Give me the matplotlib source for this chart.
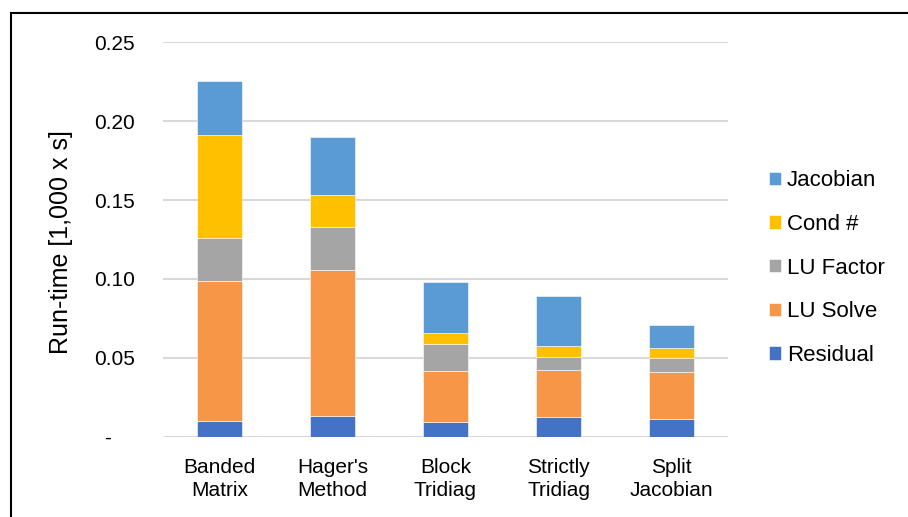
import numpy as np
import matplotlib
matplotlib.use("Agg")
import matplotlib.pyplot as plt
from matplotlib.lines import Line2D

plt.rcParams['font.family'] = ['Liberation Sans', 'DejaVu Sans']

# run-time per solver stage, in units of 1,000 s
methods = ["Banded\nMatrix", "Hager's\nMethod", "Block\nTridiag", "Strictly\nTridiag", "Split\nJacobian"]
residual = [0.0100, 0.0133, 0.0095, 0.0127, 0.0112]
lu_solve = [0.0887, 0.0925, 0.0323, 0.0294, 0.0300]
lu_factor = [0.0270, 0.0269, 0.0168, 0.0086, 0.0089]
cond_num = [0.0657, 0.0207, 0.0071, 0.0066, 0.0063]
jacobian = [0.0340, 0.0363, 0.0321, 0.0321, 0.0144]

stages = ["Residual", "LU Solve", "LU Factor", "Cond #", "Jacobian"]
colors = ["#4472C4", "#F79646", "#A5A5A5", "#FFC000", "#5B9BD5"]
yticks = [0, 0.05, 0.10, 0.15, 0.20, 0.25]
yticklabels = ["-    ", "0.05", "0.10", "0.15", "0.20", "0.25"]

fig = plt.figure(figsize=(9.08, 5.17), dpi=100)
ax = fig.add_axes([163 / 908, 1 - 436.7 / 517, 565 / 908, 394.4 / 517])

x = np.arange(len(methods))
bottom = np.zeros(len(methods))
handles = []
for name, vals, col in zip(stages, [residual, lu_solve, lu_factor, cond_num, jacobian], colors):
    b = ax.bar(x, vals, 0.4, bottom=bottom, color=col, edgecolor="white",
               linewidth=0.4, label=name, zorder=3)
    handles.append(b)
    bottom += np.array(vals)

ax.set_xlim(-0.5, 4.5)
ax.set_ylim(0, 0.25)
ax.set_yticks(yticks)
ax.set_yticklabels(yticklabels)
ax.set_xticks(x)
ax.set_xticklabels(methods, linespacing=1.3)
ax.tick_params(axis="both", length=0, labelsize=15)
ax.tick_params(axis="y", pad=20)
ax.tick_params(axis="x", pad=15)
ax.grid(axis="y", color="#d9d9d9", linewidth=1.5, zorder=0)
for s in ax.spines.values():
    s.set_visible(False)

fig.text(61 / 908, 1 - 242 / 517, "Run-time [1,000 x s]", rotation=90,
         ha="center", va="center", fontsize=18)

ax.legend(handles[::-1], stages[::-1], loc="center left",
          bbox_to_anchor=(769 / 908, 1 - 268 / 517), bbox_transform=fig.transFigure,
          frameon=False, fontsize=16, handlelength=0.55, handleheight=0.55,
          handletextpad=0.25, labelspacing=1.02, borderpad=0, borderaxespad=0)

# outer frame: top and left edges only
fig.add_artist(Line2D([11 / 908, 1.0], [1 - 13.3 / 517] * 2, color="black", linewidth=1.5,
                      transform=fig.transFigure))
fig.add_artist(Line2D([11 / 908] * 2, [0.0, 1 - 13.3 / 517], color="black", linewidth=1.5,
                      transform=fig.transFigure))

fig.savefig("out.png", dpi=100)
